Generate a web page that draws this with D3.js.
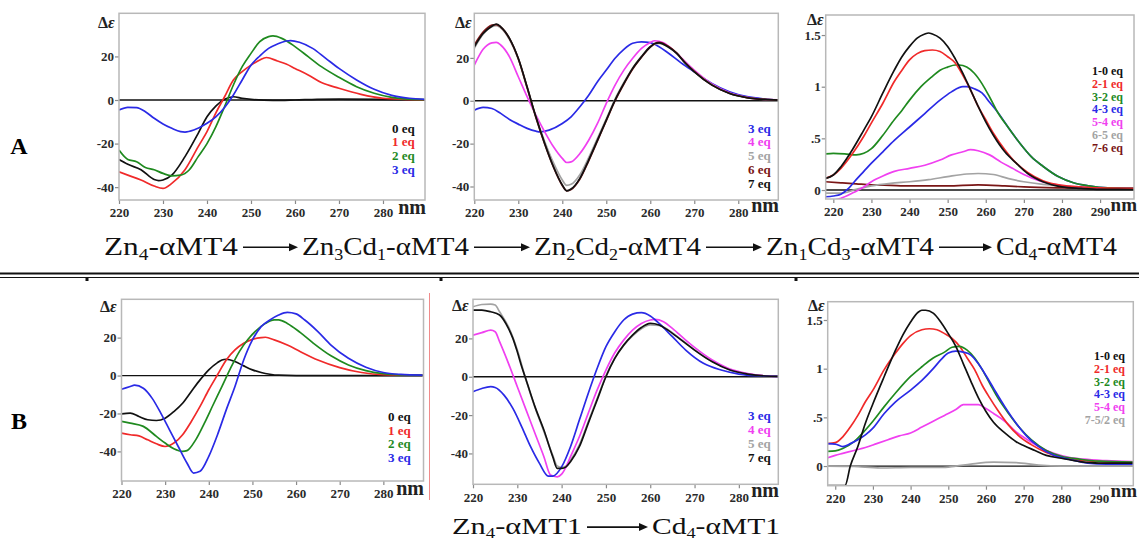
<!DOCTYPE html>
<html><head><meta charset="utf-8">
<script src="https://cdn.jsdelivr.net/npm/d3@7"></script>
<style>
html,body{margin:0;padding:0;background:#fff;}
svg{display:block;font-family:"Liberation Serif","Times New Roman",serif;}
</style></head><body>
<svg id="fig" width="1139" height="544"></svg>
<script>
// ---------- tick values ----------
const ticksCD = [-40, -20, 0, 20];
const tickLabelsCD = ["-40", "-20", "0", "20"];
const ticksDiff = [0, 0.5, 1, 1.5];
const tickLabelsDiff = ["0", ".5", "1", "1.5"];
const ticksNm7 = [220, 230, 240, 250, 260, 270, 280];
const ticksNm8 = [220, 230, 240, 250, 260, 270, 280, 290];

// ---------- legends ----------
const a1Legend = ["0 eq", "1 eq", "2 eq", "3 eq"];
const a2Legend = ["3 eq", "4 eq", "5 eq", "6 eq", "7 eq"];
const a3Legend = ["1-0 eq", "2-1 eq", "3-2 eq", "4-3 eq", "5-4 eq", "6-5 eq", "7-6 eq"];
const b1Legend = ["0 eq", "1 eq", "2 eq", "3 eq"];
const b2Legend = ["3 eq", "4 eq", "5 eq", "7 eq"];
const b3Legend = ["1-0 eq", "2-1 eq", "3-2 eq", "4-3 eq", "5-4 eq", "7-5/2 eq"];

// ---------- A1: Zn4-αMT4 + Cd(II), [nm, Δε] ----------
const a1_0eq = [[220,-27.3],[222,-29.5],[225,-32],[228,-36.5],[229,-37],[230,-36.7],[232,-34.5],[235,-26],[238,-15.3],[240,-7.7],[242,-2.8],[244,0.3],[246,1.5],[248,0.8],[250,0.3],[255,-0.2],[260,0],[265,0.3],[270,0.4],[280,0.3],[289.5,0.1]];
const a1_1eq = [[220,-33],[222,-34.5],[225,-36.7],[228,-39.5],[230,-40.6],[232,-38.3],[235,-32],[238,-21.4],[240,-14.5],[242,-6],[244,1.5],[246,9.2],[248,13],[250,16],[252,18.4],[253.5,19.5],[256,17.9],[258,16.5],[260,14.5],[263,11.5],[266,8],[270,5.4],[275,2.6],[280,0.8],[285,0.3],[289.5,0.1]];
const a1_2eq = [[220,-23],[222,-27.3],[224,-28.3],[226,-31],[228,-32],[230,-33.7],[232,-34.8],[234,-34.5],[236,-32],[238,-26],[240,-20],[242,-12.3],[244,-3],[246,6.9],[248,15.3],[250,21.4],[252,26.8],[254,29.1],[255,29.4],[257,28.3],[260,24.5],[263,19.9],[266,15.3],[270,10.4],[274,6.1],[278,3.1],[282,1.2],[286,0.4],[289.5,0.2]];
const a1_3eq = [[220,-4.6],[222,-3.4],[224,-3.5],[226,-5.4],[228,-8.4],[230,-11],[232,-13],[234,-14.5],[235,-14.7],[237,-13.8],[240,-10.7],[242,-7.7],[244,-3.4],[246,2.3],[248,9.2],[250,16],[252,20.2],[254,23.7],[256,25.7],[258,27.1],[259,27.3],[261,26.5],[264,23.7],[267,19.1],[270,14.5],[274,9.2],[278,4.9],[282,2.1],[286,0.8],[289.5,0.3]];

// ---------- A2 ----------
const a2_3eq = [[220,-4.4],[222,-3.1],[224,-3.6],[226,-5.9],[228,-8.7],[230,-10.9],[232,-12.9],[234,-14.2],[235,-14.5],[237,-13.7],[240,-10.6],[242,-7.5],[244,-2.8],[246,2.6],[248,8.9],[250,14.3],[252,19.8],[254,24],[256,26.8],[258,27.5],[260,27.1],[262,25.2],[264,22.4],[267,17.7],[270,13.5],[274,8.1],[278,4.2],[282,1.9],[286,0.8],[289,0.3]];
const a2_4eq = [[220,16.6],[222,24],[224,27],[225,27.2],[226,26],[228,20.5],[230,11.2],[232,1.9],[234,-6.7],[236,-14.5],[238,-21.5],[240,-26.9],[241,-28.8],[242,-28.5],[244,-24.6],[246,-18.4],[248,-10.6],[250,-1.2],[252,7.3],[254,14.3],[256,19.8],[258,24.4],[260,27.2],[261,28],[263,27.1],[266,22.1],[270,14.3],[274,7.8],[278,3.7],[282,1.6],[286,0.6],[289,0.4]];
const a2_5eq = [[220,24.5],[222,31],[224,34.5],[225,35],[226,34],[228,28.5],[230,19.5],[232,6],[234,-7.5],[236,-19],[238,-29],[240,-37],[241,-39.5],[242,-39],[244,-34.5],[246,-26.5],[248,-17.5],[250,-8.5],[252,0.8],[254,8.5],[256,15.3],[258,20.7],[260,25.2],[261,26.5],[262,26.8],[264,25.2],[266,22.1],[268,17.6],[270,13.7],[274,7.5],[278,3.5],[282,1.5],[286,0.6],[289,0.3]];
const a2_6eq = [[220,26],[222,32],[224,35.3],[225,35.5],[226,34.4],[228,29],[230,19.6],[232,6.3],[234,-7.8],[236,-20.2],[238,-31],[240,-39.5],[241,-42],[242,-41.4],[244,-36.5],[246,-28],[248,-18.7],[250,-9.3],[252,0],[254,7.8],[256,14.8],[258,20.3],[260,25],[261,26.6],[262,27.2],[264,25.5],[266,22.3],[268,17.6],[270,13.7],[274,7.4],[278,3.5],[282,1.5],[286,0.6],[289,0.3]];
const a2_7eq = [[220,25.2],[222,31.4],[224,34.8],[225,35.8],[226,34.5],[228,29.1],[230,19.8],[232,6.5],[234,-7.5],[236,-19.9],[238,-30.8],[240,-39.3],[241,-42],[242,-41.2],[244,-36.2],[246,-27.7],[248,-18.4],[250,-9],[252,0.3],[254,8.1],[256,15.1],[258,20.5],[260,25.2],[261,26.7],[262,27],[264,25.2],[266,22.1],[268,17.4],[270,13.5],[274,7.3],[278,3.4],[282,1.4],[286,0.6],[289,0.3]];

// ---------- A3: difference spectra ----------
const a3_10 = [[218,0.113],[220,0.145],[222,0.226],[225,0.39],[228,0.58],[230,0.71],[233,0.94],[236,1.16],[238,1.29],[240,1.39],[242,1.47],[244,1.51],[245,1.52],[246,1.51],[248,1.47],[250,1.39],[252,1.27],[254,1.13],[256,0.97],[258,0.81],[260,0.66],[262,0.53],[265,0.37],[268,0.26],[271,0.16],[275,0.08],[280,0.03],[285,0.015],[290,0.006],[299,0.005]];
const a3_21 = [[218,0.113],[220,0.145],[222,0.21],[225,0.35],[228,0.52],[230,0.65],[233,0.84],[236,1.05],[238,1.16],[240,1.26],[242,1.32],[244,1.35],[246,1.355],[248,1.34],[250,1.29],[252,1.23],[254,1.11],[256,0.97],[258,0.81],[260,0.68],[262,0.55],[265,0.39],[268,0.26],[271,0.17],[275,0.09],[280,0.045],[285,0.03],[290,0.02],[299,0.016]];
const a3_32 = [[218,0.35],[220,0.355],[223,0.35],[226,0.34],[228,0.355],[230,0.40],[233,0.53],[236,0.68],[238,0.77],[240,0.87],[243,1.0],[246,1.1],[248,1.16],[250,1.19],[252,1.21],[253,1.21],[255,1.19],[257,1.13],[259,1.03],[261,0.9],[263,0.76],[266,0.6],[269,0.45],[272,0.32],[275,0.23],[279,0.13],[283,0.07],[287,0.04],[292,0.02],[299,0.015]];
const a3_43 = [[218,-0.065],[220,-0.058],[222,-0.04],[224,0.016],[226,0.1],[228,0.18],[230,0.26],[233,0.37],[236,0.48],[240,0.61],[244,0.74],[248,0.87],[251,0.95],[254,1.0],[255,1.0],[257,0.98],[259,0.94],[261,0.85],[263,0.76],[266,0.6],[269,0.45],[272,0.32],[275,0.23],[279,0.13],[283,0.07],[287,0.04],[292,0.02],[299,0.015]];
const a3_54 = [[218,-0.097],[220,-0.097],[222,-0.08],[225,-0.03],[228,0.03],[230,0.08],[233,0.135],[236,0.18],[240,0.21],[244,0.24],[248,0.29],[251,0.34],[254,0.37],[256,0.39],[258,0.38],[261,0.34],[264,0.27],[267,0.21],[270,0.15],[274,0.09],[278,0.055],[283,0.03],[290,0.02],[299,0.015]];
const a3_65 = [[218,-0.03],[222,-0.03],[226,0.006],[230,0.04],[235,0.065],[240,0.08],[245,0.1],[250,0.13],[255,0.155],[258,0.16],[262,0.15],[266,0.11],[270,0.08],[275,0.055],[280,0.04],[290,0.02],[299,0.015]];
const a3_76 = [[218,0.08],[222,0.07],[226,0.06],[230,0.05],[235,0.045],[240,0.04],[250,0.04],[258,0.05],[265,0.04],[270,0.03],[280,0.02],[290,0.015],[299,0.01]];

// ---------- B1: Zn4-αMT1 + Cd(II) ----------
const b1_0eq = [[220,-20.2],[222,-19.8],[224,-21.6],[226,-23.3],[228,-23.7],[230,-22.5],[232,-19],[234,-14.6],[236,-8.4],[238,-2.3],[240,3],[242,6.8],[243,8.2],[244,8.6],[246,7.4],[248,5.1],[250,3],[252,1.6],[254,0.7],[256,0.2],[260,0],[289,0]];
const b1_1eq = [[220,-30.4],[222,-31.2],[224,-31.8],[226,-33.9],[228,-36],[230,-37.4],[232,-35.6],[234,-31.2],[236,-24.2],[238,-16.3],[240,-7.5],[242,0.4],[244,8.2],[246,13.5],[248,17],[250,19.1],[252,20],[253,20.2],[255,18.8],[258,16.1],[261,12.6],[265,8.2],[270,4.2],[275,1.6],[280,0.5],[289,0.2]];
const b1_2eq = [[220,-24.2],[222,-25.1],[225,-26.8],[228,-32.1],[230,-35.6],[232,-38.6],[234,-40],[235,-39.6],[237,-33.9],[239,-25.1],[241,-15.4],[243,-5.8],[245,3.9],[247,12.6],[249,19.1],[251,24],[253,27.5],[255,29.3],[256,29.3],[258,27.5],[261,22.6],[264,17],[268,10.4],[272,5.6],[276,2.6],[280,1],[285,0.3],[289,0.2]];
const b1_3eq = [[220,-7.2],[222,-5.8],[223,-5.1],[225,-6.7],[227,-11.9],[229,-19.8],[231,-28.6],[233,-37.4],[235,-46.1],[236.5,-51.4],[238,-50.5],[240,-42.6],[242,-31.2],[244,-18.1],[246,-5.8],[248,8.2],[250,18.8],[252,25.8],[254,29.3],[256,31.9],[258,33.3],[260,32.5],[262,29.3],[265,23.2],[268,16.1],[272,9.1],[276,4.4],[280,1.6],[284,0.6],[289,0.2]];

// ---------- B2 ----------
const b2_3eq = [[220,-7.8],[222,-6.1],[224,-5.2],[225,-5.6],[227,-9.6],[229,-16.5],[231,-26.1],[233,-36.5],[235,-45.2],[237,-51.8],[238,-51.8],[240,-47],[242,-36.5],[244,-22.6],[246,-8.7],[248,4.3],[250,15.7],[252,23.5],[254,29.6],[256,32.7],[258,33.4],[260,31.7],[262,27.8],[265,20.9],[268,13.9],[272,7],[276,3.5],[280,1.4],[285,0.4],[289,0.2]];
const b2_4eq = [[220,21.7],[222,23],[224,24.3],[225,23.5],[226,18.3],[228,7],[230,-5.2],[232,-17.4],[234,-29.6],[236,-41.7],[237.5,-51.3],[239,-52.2],[240,-50.8],[241,-47],[242,-41.7],[244,-31.3],[246,-19.1],[248,-7],[250,3.5],[252,12.5],[254,19.1],[256,24.3],[258,27.8],[260,29.6],[261,29.9],[263,28.7],[265,25.2],[268,19.1],[270,15.3],[274,8.7],[278,4],[282,1.7],[286,0.5],[289,0.2]];
const b2_5eq = [[220,36.5],[222,37.7],[224,37.9],[225,37.4],[226,33.9],[228,26.1],[230,13.9],[232,-2],[234,-16],[236,-28.5],[238,-41],[239,-46.5],[240,-47.2],[241,-46.5],[242,-43.5],[244,-35.5],[246,-23.5],[248,-11.5],[250,0.5],[252,9.8],[254,16.3],[256,21.3],[258,25],[260,27],[262,26.8],[264,24.5],[266,21.2],[268,17.6],[270,14],[274,7.9],[278,3.6],[282,1.5],[286,0.4],[289,0.2]];
const b2_7eq = [[220,34.8],[222,34.8],[224,33.9],[226,32.2],[228,25.2],[229,20],[230,13],[231,5.2],[232,-1.7],[234,-15.7],[236,-27.8],[238,-41.7],[239,-47.8],[240,-47.8],[241,-47],[242,-44.3],[244,-36.5],[246,-24.3],[248,-12.2],[250,0],[252,9.6],[254,16.5],[256,21.7],[258,25.7],[260,27.8],[262,27],[264,24.3],[266,20.9],[268,17.4],[270,13.9],[274,7.8],[278,3.5],[282,1.4],[286,0.4],[289,0.2]];

// ---------- B3: difference spectra ----------
const b3_10 = [[218,-0.2],[222.6,-0.2],[224,0],[226,0.2],[228,0.44],[230,0.64],[233,0.92],[236,1.19],[238,1.35],[240,1.48],[242,1.58],[243,1.6],[244,1.6],[246,1.57],[248,1.48],[250,1.36],[252,1.23],[254,1.05],[256,0.87],[258,0.7],[260,0.56],[262,0.45],[265,0.34],[268,0.25],[270,0.21],[273,0.16],[276,0.11],[280,0.08],[285,0.045],[290,0.03],[299,0.03]];
const b3_21 = [[218,0.23],[220,0.24],[222,0.3],[224,0.4],[226,0.52],[228,0.66],[230,0.78],[233,0.99],[236,1.16],[238,1.26],[240,1.34],[243,1.4],[245,1.41],[247,1.4],[249,1.36],[251,1.31],[253,1.23],[255,1.11],[257,0.99],[259,0.83],[261,0.7],[263,0.58],[266,0.42],[269,0.3],[272,0.22],[276,0.14],[280,0.09],[285,0.06],[290,0.045],[299,0.035]];
const b3_32 = [[218,0.15],[220,0.155],[222,0.18],[225,0.25],[228,0.37],[230,0.46],[233,0.61],[236,0.75],[240,0.92],[243,1.02],[246,1.11],[249,1.17],[251,1.22],[253,1.23],[255,1.19],[257,1.11],[259,0.99],[261,0.85],[263,0.71],[266,0.54],[269,0.39],[272,0.27],[276,0.16],[280,0.1],[285,0.07],[290,0.05],[299,0.04]];
const b3_43 = [[218,0.23],[220,0.226],[222,0.2],[224,0.23],[226,0.27],[228,0.32],[230,0.39],[233,0.54],[236,0.66],[240,0.78],[243,0.88],[246,1.0],[248,1.09],[250,1.16],[252,1.18],[254,1.17],[256,1.14],[258,1.05],[260,0.93],[262,0.8],[265,0.61],[268,0.44],[271,0.3],[274,0.2],[278,0.11],[282,0.07],[287,0.03],[292,0.02],[299,0.02]];
const b3_54 = [[218,0.085],[220,0.11],[222,0.13],[225,0.16],[228,0.19],[231,0.23],[234,0.27],[237,0.31],[240,0.34],[243,0.4],[246,0.46],[249,0.52],[252,0.58],[254,0.63],[256,0.63],[258,0.63],[260,0.59],[262,0.54],[265,0.46],[268,0.35],[271,0.27],[274,0.2],[278,0.13],[282,0.09],[286,0.07],[292,0.055],[299,0.045]];
const b3_752 = [[218,0],[225,-0.005],[232,-0.02],[240,-0.015],[248,-0.015],[252,0],[256,0.02],[262,0.04],[268,0.035],[274,0.01],[280,0],[290,0],[299,0]];

// ---------- colours ----------
const C = {k:"#111111", r:"#f02a2a", g:"#1f8a1f", b:"#2a2ae6", m:"#f040f0", gr:"#a3a3a3", dr:"#7a1616"};

// ---------- panel layout ----------
const panels = [
  {x0:119, x1:425, y0:13.3, y1:200, xd:[220,289.55], yd:[39.8,-45.9], yt:ticksCD, ytl:tickLabelsCD, xt:ticksNm7,
   series:[[a1_0eq,C.k],[a1_1eq,C.r],[a1_2eq,C.g],[a1_3eq,C.b]],
   legend:a1Legend, lc:[C.k,C.r,C.g,C.b], lx:392, ly:132.5, ldy:13.7, lfs:13, lanchor:"start",
   de:[98,28], nm:[426,214], nmfs:20},
  {x0:474.3, x1:778.3, y0:13.3, y1:200, xd:[220,289.1], yd:[40.8,-46.3], yt:ticksCD, ytl:tickLabelsCD, xt:ticksNm7,
   series:[[a2_3eq,C.b],[a2_4eq,C.m],[a2_5eq,C.gr],[a2_6eq,C.dr],[a2_7eq,C.k]],
   legend:a2Legend, lc:[C.b,C.m,C.gr,C.dr,C.k], lx:748, ly:132.5, ldy:13.8, lfs:13, lanchor:"start",
   de:[455,28], nm:[779,212], nmfs:20},
  {x0:825.7, x1:1134, y0:15, y1:199, xd:[218,298.9], yd:[1.694,-0.087], yt:ticksDiff, ytl:tickLabelsDiff, xt:ticksNm8,
   series:[[a3_76,C.dr],[a3_65,C.gr],[a3_54,C.m],[a3_43,C.b],[a3_32,C.g],[a3_21,C.r],[a3_10,C.k]],
   legend:a3Legend, lc:[C.k,C.r,C.g,C.b,C.m,C.gr,C.dr], lx:1092, ly:75, ldy:12.8, lfs:12, lanchor:"start",
   de:[807,25], nm:[1137,211], nmfs:19},
  {x0:121.5, x1:423.5, y0:299.3, y1:481, xd:[220,289.2], yd:[40.2,-55.6], yt:ticksCD, ytl:tickLabelsCD, xt:ticksNm7,
   series:[[b1_0eq,C.k],[b1_1eq,C.r],[b1_2eq,C.g],[b1_3eq,C.b]],
   legend:b1Legend, lc:[C.k,C.r,C.g,C.b], lx:388, ly:421, ldy:13.7, lfs:13, lanchor:"start",
   de:[100,312], nm:[424,495], nmfs:20},
  {x0:473, x1:778.3, y0:299.3, y1:484.3, xd:[220,288.9], yd:[40.4,-56.1], yt:ticksCD, ytl:tickLabelsCD, xt:ticksNm7,
   series:[[b2_5eq,C.gr],[b2_4eq,C.m],[b2_3eq,C.b],[b2_7eq,C.k]],
   legend:b2Legend, lc:[C.b,C.m,C.gr,C.k], lx:748, ly:420, ldy:14, lfs:13, lanchor:"start",
   de:[452,311], nm:[779,497], nmfs:20},
  {x0:827.7, x1:1133.3, y0:301.7, y1:485.7, xd:[218,299.1], yd:[1.688,-0.202], yt:ticksDiff, ytl:tickLabelsDiff, xt:ticksNm8,
   series:[[b3_752,C.gr],[b3_54,C.m],[b3_21,C.r],[b3_32,C.g],[b3_43,C.b],[b3_10,C.k]],
   legend:b3Legend, lc:[C.k,C.r,C.g,C.b,C.m,C.gr], lx:1125, ly:360, ldy:12.8, lfs:12, lanchor:"end",
   de:[808,311], nm:[1137,497], nmfs:19}
];

const svg = d3.select("#fig");
svg.append("rect").attr("width",1139).attr("height",544).attr("fill","#fff");

panels.forEach((p, i) => {
  const x = d3.scaleLinear().domain(p.xd).range([p.x0, p.x1]);
  const y = d3.scaleLinear().domain(p.yd).range([p.y0, p.y1]);
  const g = svg.append("g");
  const clipId = "clip" + i;
  svg.append("clipPath").attr("id", clipId).append("rect")
    .attr("x", p.x0).attr("y", p.y0).attr("width", p.x1 - p.x0).attr("height", p.y1 - p.y0);

  // y axis ticks + labels
  const yAxis = d3.axisLeft(y).tickValues(p.yt).tickSize(4)
    .tickFormat((d, k) => p.ytl[k]);
  const ya = g.append("g").attr("transform", `translate(${p.x0},0)`).call(yAxis);
  ya.select(".domain").remove();
  ya.selectAll("line").attr("stroke", "#8a8a8a").attr("stroke-width", 1.2);
  ya.selectAll("text").attr("font-family", "Liberation Serif, serif").attr("font-weight", "bold")
    .attr("font-size", 13).attr("fill", "#2a2a2a").attr("x", -5);

  // x axis ticks + labels
  const xAxis = d3.axisBottom(x).tickValues(p.xt).tickSize(4).tickFormat(d3.format("d"));
  const xa = g.append("g").attr("transform", `translate(0,${p.y1})`).call(xAxis);
  xa.select(".domain").remove();
  xa.selectAll("line").attr("stroke", "#8a8a8a").attr("stroke-width", 1.2);
  xa.selectAll("text").attr("font-family", "Liberation Serif, serif").attr("font-weight", "bold")
    .attr("font-size", 13).attr("fill", "#2a2a2a").attr("y", 8);

  // zero line
  g.append("line").attr("x1", p.x0).attr("x2", p.x1).attr("y1", y(0)).attr("y2", y(0))
    .attr("stroke", "#111").attr("stroke-width", 1.3);

  // spectra
  const line = d3.line().x(d => x(d[0])).y(d => y(d[1])).curve(d3.curveMonotoneX);
  const cg = g.append("g").attr("clip-path", `url(#${clipId})`);
  p.series.forEach(([data, col]) => {
    cg.append("path").attr("d", line(data)).attr("fill", "none")
      .attr("stroke", col).attr("stroke-width", 1.7).attr("stroke-linejoin", "round");
  });

  // frame
  g.append("rect").attr("x", p.x0).attr("y", p.y0).attr("width", p.x1 - p.x0).attr("height", p.y1 - p.y0)
    .attr("fill", "none").attr("stroke", "#b8b8b8").attr("stroke-width", 1.5);

  // legend
  p.legend.forEach((t, k) => {
    g.append("text").attr("x", p.lx).attr("y", p.ly + k * p.ldy).attr("text-anchor", p.lanchor)
      .attr("font-weight", "bold").attr("font-size", p.lfs).attr("fill", p.lc[k]).text(t);
  });

  // Δε and nm labels
  const de = g.append("text").attr("x", p.de[0]).attr("y", p.de[1]).attr("font-weight", "bold")
    .attr("font-size", 16).attr("fill", "#222");
  de.append("tspan").text("Δ");
  de.append("tspan").attr("font-style", "italic").text("ε");
  g.append("text").attr("x", p.nm[0]).attr("y", p.nm[1]).attr("text-anchor", "end")
    .attr("font-weight", "bold").attr("font-size", p.nmfs).attr("fill", "#222").text("nm");
});

// ---------- row letters ----------
svg.append("text").attr("x", 19).attr("y", 154).attr("text-anchor", "middle")
  .attr("font-weight", "bold").attr("font-size", 24).text("A");
svg.append("text").attr("x", 19).attr("y", 429).attr("text-anchor", "middle")
  .attr("font-weight", "bold").attr("font-size", 24).text("B");

// ---------- reaction schemes ----------
// each species: list of [text, isSubscript] parts
const speciesA = [
  [["Zn",0],["4",1],["-αMT4",0]],
  [["Zn",0],["3",1],["Cd",0],["1",1],["-αMT4",0]],
  [["Zn",0],["2",1],["Cd",0],["2",1],["-αMT4",0]],
  [["Zn",0],["1",1],["Cd",0],["3",1],["-αMT4",0]],
  [["Cd",0],["4",1],["-αMT4",0]]
];
const speciesB = [
  [["Zn",0],["4",1],["-αMT1",0]],
  [["Cd",0],["4",1],["-αMT1",0]]
];
const spanA = [[104,238],[302,469],[534,701],[766,934],[996,1117]];
const spanB = [[452,582],[652,780]];

function drawScheme(species, spans, baseline, fs) {
  species.forEach((parts, i) => {
    const [xa, xb] = spans[i];
    const t = svg.append("text").attr("x", 0).attr("y", 0).attr("font-size", fs).attr("fill", "#111");
    parts.forEach(([s, sub], k) => {
      const prevSub = k > 0 ? parts[k - 1][1] : 0;
      const ts = t.append("tspan").text(s)
        .attr("dy", sub && !prevSub ? fs * 0.18 : (!sub && prevSub ? -fs * 0.18 : 0));
      if (sub) ts.attr("font-size", fs * 0.62);
    });
    const w = t.node().getComputedTextLength();
    t.attr("transform", `translate(${xa},${baseline}) scale(${(xb - xa) / w},1)`);
    if (i < species.length - 1) {
      const ax0 = xb + 5, ax1 = spans[i + 1][0] - 4, ay = baseline - fs * 0.3;
      svg.append("line").attr("x1", ax0).attr("x2", ax1 - 6).attr("y1", ay).attr("y2", ay)
        .attr("stroke", "#111").attr("stroke-width", 1.6);
      svg.append("path").attr("d", `M${ax1 - 9},${ay - 4} L${ax1},${ay} L${ax1 - 9},${ay + 4} Z`).attr("fill", "#111");
    }
  });
}
drawScheme(speciesA, spanA, 255, 26);
drawScheme(speciesB, spanB, 534, 23);

// ---------- separator between rows ----------
svg.append("line").attr("x1", 0).attr("x2", 1139).attr("y1", 273.5).attr("y2", 273.5)
  .attr("stroke", "#111").attr("stroke-width", 2);
svg.append("line").attr("x1", 0).attr("x2", 1139).attr("y1", 277.5).attr("y2", 277.5)
  .attr("stroke", "#111").attr("stroke-width", 1.2);
[87, 441, 796].forEach(xv => {
  svg.append("rect").attr("x", xv - 1.5).attr("y", 277).attr("width", 3).attr("height", 4).attr("fill", "#111");
});

// thin red rule at the right of the B1 plot
svg.append("line").attr("x1", 429.5).attr("x2", 429.5).attr("y1", 293).attr("y2", 500)
  .attr("stroke", "#f08a8a").attr("stroke-width", 1);
</script>
</body></html>
